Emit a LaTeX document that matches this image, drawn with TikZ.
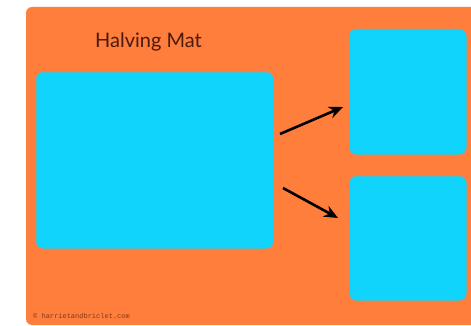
\documentclass[tikz,border=0pt]{standalone}
\usepackage{fontspec}
\usetikzlibrary{arrows.meta}
\setmainfont{Lato}
\setmonofont{Liberation Mono}
\definecolor{matorange}{HTML}{FF7E3C}
\definecolor{matblue}{HTML}{10D4FC}
\definecolor{titlecol}{HTML}{4A1A10}
\begin{document}
\begin{tikzpicture}[x=1pt,y=-1pt,
  mat/.style={fill=matorange, rounded corners=6pt},
  box/.style={fill=matblue, draw=matblue!80!matorange, line width=0.6pt, rounded corners=7pt},
  arr/.style={-{Stealth[length=14pt,width=12pt]}, line width=2.6pt, black}]
\useasboundingbox (0,0) rectangle (471,326);
\fill[white] (0,0) rectangle (471,326);
\fill[mat] (26,7) rectangle (480,325);
\node[box, minimum width=237pt, minimum height=176pt, anchor=north west, inner sep=0pt] (big) at (36,72) {};
\node[box, minimum width=117pt, minimum height=125pt, anchor=north west, inner sep=0pt] (top) at (349,29) {};
\node[box, minimum width=117pt, minimum height=124pt, anchor=north west, inner sep=0pt] (bot) at (349,176) {};
\node[text=titlecol, font=\fontsize{20}{23}\selectfont, anchor=base west, inner sep=0pt] (title) at (95,48) {Halving Mat};
\node[text=titlecol!70!matorange, font=\ttfamily\fontsize{7}{8}\selectfont, anchor=west, inner sep=0pt] (copy) at (33,316) {© harrietandbriclet.com};
\coordinate (a1s) at (280,134);
\coordinate (a1e) at (343,107);
\coordinate (a2s) at (283,188);
\coordinate (a2e) at (338,218);
\draw[arr] (a1s) -- (a1e);
\draw[arr] (a2s) -- (a2e);
\end{tikzpicture}
\end{document}
